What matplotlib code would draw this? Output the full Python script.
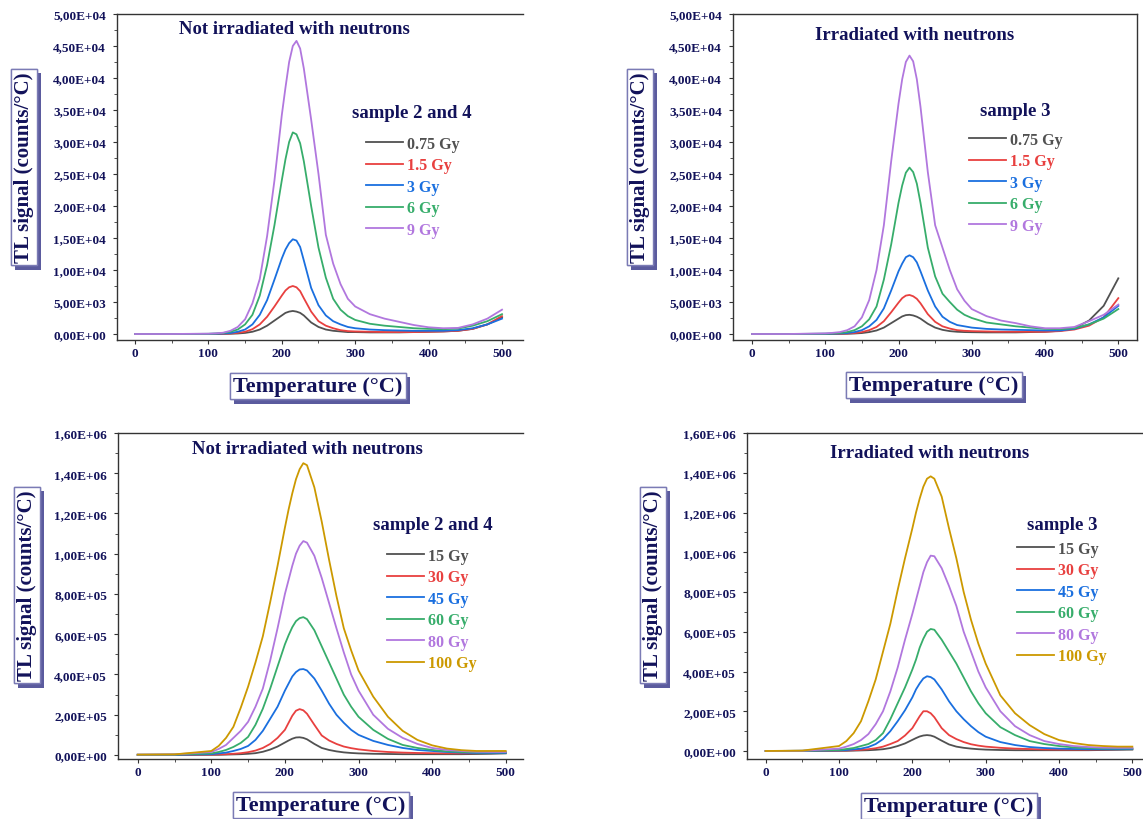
import matplotlib
matplotlib.use("Agg")
import matplotlib.pyplot as plt
import matplotlib.patheffects as pe
from matplotlib.ticker import MultipleLocator, FuncFormatter
import numpy as np

# ── Data ─────────────────────────────────────────────────────────────────────
temp = [0, 50, 100, 110, 120, 130, 140, 150, 160, 170, 180, 190, 200, 205, 210, 215,
        220, 225, 230, 240, 250, 260, 270, 280, 290, 300, 320, 340, 360, 380, 400,
        420, 440, 460, 480, 500]

# low doses, not irradiated with neutrons (x1e3 counts/°C)
nl_075 = [0, 0, 0, 0.01, 0.02, 0.04, 0.08, 0.17, 0.35, 0.7, 1.3, 2.1, 2.9, 3.3, 3.5, 3.6,
          3.5, 3.3, 2.9, 1.8, 1.1, 0.7, 0.5, 0.4, 0.3, 0.3, 0.25, 0.25, 0.25, 0.3, 0.35,
          0.4, 0.5, 0.8, 1.5, 2.6]
nl_15 = [0, 0, 0.01, 0.02, 0.04, 0.08, 0.18, 0.35, 0.75, 1.5, 2.7, 4.3, 6.0, 6.8, 7.3, 7.5,
         7.3, 6.7, 5.6, 3.5, 2.0, 1.3, 0.9, 0.6, 0.45, 0.4, 0.35, 0.3, 0.3, 0.3, 0.35,
         0.4, 0.5, 0.8, 1.5, 2.8]
nl_3 = [0, 0, 0.02, 0.04, 0.08, 0.15, 0.35, 0.7, 1.5, 3.0, 5.3, 8.5, 11.8, 13.2, 14.2, 14.8,
        14.6, 13.6, 11.5, 7.2, 4.5, 2.9, 2.0, 1.5, 1.1, 0.9, 0.7, 0.6, 0.55, 0.5, 0.5,
        0.5, 0.6, 0.9, 1.5, 2.4]
nl_6 = [0, 0, 0.03, 0.07, 0.15, 0.35, 0.7, 1.5, 3.0, 6.0, 10.8, 17.0, 24.0, 27.3, 30.0, 31.5,
        31.2, 29.8, 27.0, 20.0, 13.5, 8.8, 5.5, 3.8, 2.8, 2.2, 1.6, 1.3, 1.1, 0.9, 0.8,
        0.75, 0.85, 1.3, 2.0, 3.1]
nl_9 = [0, 0, 0.05, 0.1, 0.2, 0.5, 1.1, 2.3, 4.8, 8.6, 15.3, 24.0, 34.2, 38.5, 42.5, 45.0,
        45.8, 44.6, 41.5, 33.5, 25.0, 15.5, 11.0, 7.8, 5.5, 4.3, 3.1, 2.4, 1.9, 1.4, 1.05,
        0.9, 0.95, 1.5, 2.4, 3.8]

# low doses, irradiated with neutrons (x1e3 counts/°C)
il_075 = [0, 0, 0, 0.01, 0.02, 0.04, 0.08, 0.15, 0.3, 0.55, 1.0, 1.7, 2.4, 2.75, 2.95, 3.0,
          2.9, 2.7, 2.4, 1.6, 1.0, 0.65, 0.45, 0.35, 0.3, 0.28, 0.25, 0.25, 0.25, 0.3, 0.35,
          0.5, 0.9, 2.1, 4.4, 8.7]
il_15 = [0, 0, 0.01, 0.02, 0.04, 0.08, 0.15, 0.3, 0.6, 1.1, 2.0, 3.4, 4.9, 5.6, 6.0, 6.1,
         5.9, 5.5, 4.8, 3.1, 1.9, 1.2, 0.85, 0.6, 0.5, 0.45, 0.4, 0.35, 0.35, 0.35, 0.35,
         0.45, 0.7, 1.3, 2.6, 5.6]
il_3 = [0, 0, 0.03, 0.05, 0.08, 0.15, 0.3, 0.6, 1.2, 2.2, 4.0, 6.8, 9.8, 11.0, 12.0, 12.3,
        12.0, 11.2, 9.8, 6.8, 4.3, 2.7, 1.9, 1.4, 1.2, 1.0, 0.8, 0.7, 0.65, 0.6, 0.55,
        0.55, 0.8, 1.5, 2.6, 4.4]
il_6 = [0, 0, 0.05, 0.08, 0.15, 0.3, 0.6, 1.2, 2.3, 4.3, 8.5, 14.0, 20.5, 23.2, 25.2, 26.0,
        25.3, 23.5, 20.5, 13.5, 9.0, 6.3, 5.0, 3.8, 3.0, 2.5, 1.8, 1.5, 1.2, 1.0, 0.8,
        0.75, 0.9, 1.5, 2.4, 3.9]
il_9 = [0, 0, 0.1, 0.18, 0.3, 0.6, 1.2, 2.6, 5.3, 10.0, 17.0, 27.0, 36.0, 39.8, 42.5, 43.5,
        42.6, 39.8, 35.5, 25.3, 17.0, 13.5, 10.0, 7.0, 5.2, 3.9, 2.8, 2.1, 1.7, 1.2, 0.9,
        0.9, 1.1, 2.0, 3.0, 4.6]

# high doses, not irradiated with neutrons (x1e6 counts/°C)
nh_15 = [0, 0, 0.001, 0.001, 0.002, 0.003, 0.004, 0.006, 0.009, 0.016, 0.027, 0.042, 0.062,
         0.072, 0.081, 0.087, 0.088, 0.085, 0.078, 0.055, 0.035, 0.025, 0.018, 0.013, 0.01,
         0.008, 0.006, 0.005, 0.004, 0.004, 0.004, 0.004, 0.004, 0.005, 0.006, 0.008]
nh_30 = [0, 0.001, 0.002, 0.003, 0.004, 0.006, 0.009, 0.014, 0.022, 0.035, 0.055, 0.085, 0.125,
         0.16, 0.195, 0.22, 0.228, 0.222, 0.205, 0.15, 0.097, 0.072, 0.055, 0.042, 0.034,
         0.028, 0.02, 0.015, 0.012, 0.01, 0.009, 0.008, 0.008, 0.009, 0.01, 0.012]
nh_45 = [0.001, 0.001, 0.004, 0.008, 0.012, 0.02, 0.03, 0.045, 0.075, 0.12, 0.18, 0.24, 0.32,
         0.355, 0.39, 0.412, 0.425, 0.427, 0.42, 0.38, 0.32, 0.255, 0.2, 0.16, 0.125,
         0.1, 0.07, 0.05, 0.035, 0.025, 0.02, 0.015, 0.012, 0.01, 0.01, 0.01]
nh_60 = [0.001, 0.002, 0.008, 0.015, 0.025, 0.04, 0.06, 0.09, 0.15, 0.23, 0.33, 0.44, 0.55,
         0.595, 0.635, 0.665, 0.68, 0.685, 0.675, 0.62, 0.54, 0.46, 0.38, 0.3, 0.24,
         0.19, 0.125, 0.08, 0.05, 0.035, 0.025, 0.018, 0.015, 0.013, 0.013, 0.013]
nh_80 = [0.002, 0.003, 0.015, 0.03, 0.05, 0.085, 0.12, 0.165, 0.24, 0.33, 0.47, 0.63, 0.8,
         0.87, 0.94, 1.0, 1.04, 1.063, 1.055, 0.99, 0.88, 0.755, 0.63, 0.51, 0.4,
         0.32, 0.2, 0.13, 0.085, 0.055, 0.035, 0.025, 0.02, 0.016, 0.015, 0.015]
nh_100 = [0.002, 0.003, 0.02, 0.045, 0.085, 0.14, 0.235, 0.34, 0.46, 0.59, 0.76, 0.94, 1.13,
          1.22, 1.3, 1.37, 1.42, 1.45, 1.44, 1.33, 1.16, 0.97, 0.79, 0.63, 0.52,
          0.42, 0.29, 0.19, 0.12, 0.075, 0.048, 0.032, 0.024, 0.02, 0.02, 0.02]

# high doses, irradiated with neutrons (x1e6 counts/°C)
ih_15 = [0, 0, 0.001, 0.001, 0.002, 0.003, 0.004, 0.006, 0.009, 0.015, 0.025, 0.038, 0.056,
         0.065, 0.073, 0.078, 0.08, 0.078, 0.072, 0.052, 0.033, 0.022, 0.016, 0.012, 0.009,
         0.007, 0.005, 0.004, 0.004, 0.004, 0.004, 0.004, 0.004, 0.005, 0.006, 0.007]
ih_30 = [0, 0, 0.002, 0.003, 0.004, 0.006, 0.009, 0.014, 0.022, 0.035, 0.05, 0.078, 0.115,
         0.145, 0.175, 0.2, 0.2, 0.19, 0.17, 0.115, 0.08, 0.06, 0.045, 0.034, 0.027,
         0.022, 0.016, 0.012, 0.01, 0.008, 0.007, 0.007, 0.007, 0.008, 0.009, 0.01]
ih_45 = [0, 0.001, 0.003, 0.005, 0.008, 0.012, 0.02, 0.035, 0.06, 0.1, 0.15, 0.205, 0.27,
         0.31, 0.34, 0.365, 0.376, 0.372, 0.36, 0.31, 0.25, 0.2, 0.16, 0.125, 0.095,
         0.072, 0.045, 0.03, 0.02, 0.015, 0.012, 0.01, 0.009, 0.009, 0.009, 0.01]
ih_60 = [0, 0.001, 0.005, 0.01, 0.015, 0.025, 0.035, 0.055, 0.09, 0.16, 0.24, 0.32, 0.41,
         0.46, 0.52, 0.565, 0.6, 0.614, 0.61, 0.56, 0.5, 0.44, 0.37, 0.3, 0.24,
         0.19, 0.12, 0.08, 0.05, 0.035, 0.025, 0.018, 0.015, 0.013, 0.013, 0.013]
ih_80 = [0, 0.001, 0.012, 0.022, 0.035, 0.055, 0.085, 0.135, 0.2, 0.3, 0.42, 0.56, 0.69,
         0.76, 0.83, 0.9, 0.95, 0.983, 0.98, 0.92, 0.83, 0.73, 0.6, 0.5, 0.4,
         0.32, 0.2, 0.125, 0.08, 0.05, 0.035, 0.025, 0.02, 0.017, 0.016, 0.016]
ih_100 = [0, 0.002, 0.025, 0.05, 0.09, 0.15, 0.25, 0.36, 0.5, 0.64, 0.81, 0.97, 1.12,
          1.2, 1.27, 1.33, 1.37, 1.382, 1.37, 1.28, 1.12, 0.97, 0.8, 0.66, 0.54,
          0.44, 0.28, 0.19, 0.13, 0.085, 0.055, 0.04, 0.03, 0.025, 0.022, 0.022]

low_labels = ["0.75 Gy", "1.5 Gy", "3 Gy", "6 Gy", "9 Gy"]
high_labels = ["15 Gy", "30 Gy", "45 Gy", "60 Gy", "80 Gy", "100 Gy"]

# ── Style ────────────────────────────────────────────────────────────────────
W, H = 1143, 820
NAVY = "#12125a"
COLORS = ["#515151", "#E8403F", "#1A6FDF", "#37AD6B", "#B177DE", "#CC9900"]

plt.rcParams.update({
    "font.family": "Liberation Serif",
    "font.weight": "bold",
    "axes.linewidth": 1.0,
    "axes.edgecolor": "#333333",
})

fig = plt.figure(figsize=(W / 100, H / 100), dpi=100)


def fx(x):
    return x / W


def fy(y):
    return 1 - y / H


def boxed(x, y, s, size, rot=0):
    t = fig.text(fx(x), fy(y), s, fontsize=size, color=NAVY, rotation=rot,
                 ha="center", va="center",
                 bbox=dict(boxstyle="square,pad=0.15", fc="white", ec="#7b7bb5", lw=1))
    t.get_bbox_patch().set_path_effects([
        pe.withSimplePatchShadow(offset=(3, -3), shadow_rgbFace="#5b5b9e", alpha=1.0),
        pe.Normal()])


def sci(v, pos):
    return f"{v:.2E}".replace(".", ",")


def panel(box, xlim, ylim, ystep, scale, series, labels, title, title_xy,
          leg_title, leg_title_xy, leg_anchor, ylab_xy, xlab_xy, right_spine):
    x0, y0, x1, y1 = box
    ax = fig.add_axes([fx(x0), fy(y1), (x1 - x0) / W, (y1 - y0) / H])
    for vals, lab, c in zip(series, labels, COLORS):
        ax.plot(temp, np.array(vals) * scale, color=c, lw=1.3, label=lab)
    ax.set_xlim(*xlim)
    ax.set_ylim(*ylim)
    ax.spines["right"].set_visible(right_spine)
    ax.xaxis.set_major_locator(MultipleLocator(100))
    ax.xaxis.set_minor_locator(MultipleLocator(50))
    ax.yaxis.set_major_locator(MultipleLocator(ystep))
    ax.yaxis.set_minor_locator(MultipleLocator(ystep / 2))
    ax.yaxis.set_major_formatter(FuncFormatter(sci))
    ax.tick_params(axis="both", which="both", direction="out", colors="#333333",
                   labelcolor=NAVY, top=False, right=False)
    ax.tick_params(axis="both", which="major", length=3)
    ax.tick_params(axis="both", which="minor", length=2)
    ax.tick_params(axis="y", labelsize=9.5, pad=5)
    ax.tick_params(axis="x", labelsize=9.5, pad=2)

    fig.text(fx(title_xy[0]), fy(title_xy[1]), title, fontsize=13.5, color=NAVY,
             ha="center", va="center")
    fig.text(fx(leg_title_xy[0]), fy(leg_title_xy[1]), leg_title, fontsize=13.5,
             color=NAVY, ha="center", va="center")
    ax.legend(loc="upper left", bbox_to_anchor=(fx(leg_anchor[0]), fy(leg_anchor[1])),
              bbox_transform=fig.transFigure, frameon=False, labelcolor="linecolor",
              prop={"family": "Liberation Serif", "weight": "bold", "size": 11.5},
              handlelength=2.3, handletextpad=0.25, labelspacing=0.34,
              borderpad=0, borderaxespad=0)

    boxed(ylab_xy[0], ylab_xy[1], "TL signal (counts/°C)", 15, rot=90)
    boxed(xlab_xy[0], xlab_xy[1], "Temperature (°C)", 16)
    return ax


panel((117, 15, 523, 341), (-24.5, 528.6), (-937, 50000), 5000, 1e3,
      [nl_075, nl_15, nl_3, nl_6, nl_9], low_labels,
      "Not irradiated with neutrons", (294, 30),
      "sample 2 and 4", (412, 114), (366, 137), (24, 168), (318, 387), False)

panel((733, 15, 1137, 341), (-25.9, 525.5), (-937, 50000), 5000, 1e3,
      [il_075, il_15, il_3, il_6, il_9], low_labels,
      "Irradiated with neutrons", (915, 35),
      "sample 3", (1015, 111), (969, 133), (640, 168), (934, 386), True)

panel((118, 434, 523, 760), (-26.8, 523.5), (-19900, 1.6e6), 2e5, 1e6,
      [nh_15, nh_30, nh_45, nh_60, nh_80, nh_100], high_labels,
      "Not irradiated with neutrons", (307, 449),
      "sample 2 and 4", (433, 525), (387, 549), (27, 586), (321, 806), False)

panel((747, 434, 1150, 760), (-25.5, 524.1), (-40250, 1.6e6), 2e5, 1e6,
      [ih_15, ih_30, ih_45, ih_60, ih_80, ih_100], high_labels,
      "Irradiated with neutrons", (930, 453),
      "sample 3", (1062, 525), (1017, 542), (653, 586), (949, 807), False)

fig.savefig("out.png", dpi=100)
